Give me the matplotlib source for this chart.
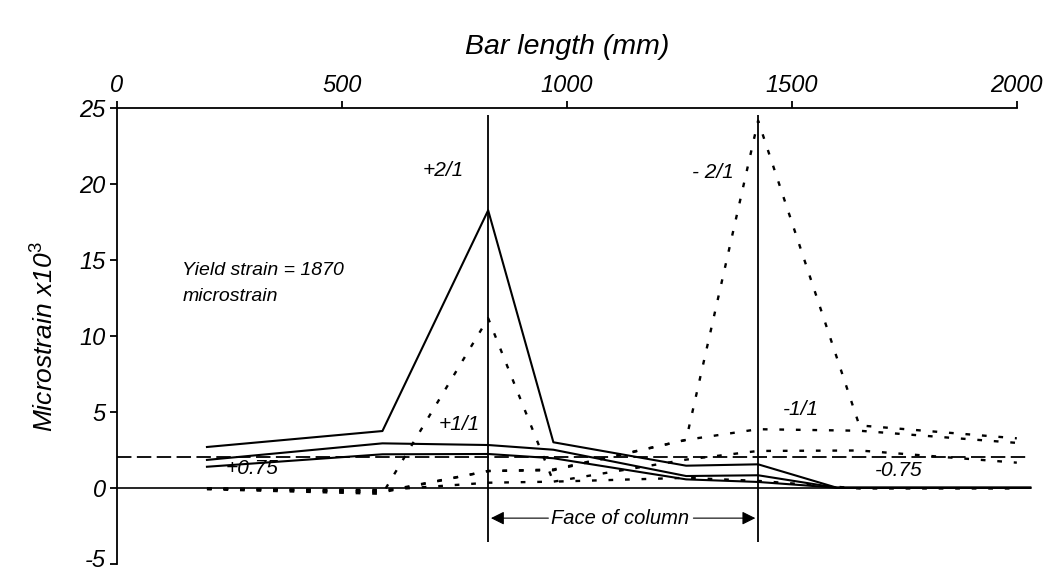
import matplotlib.pyplot as plt
from matplotlib.transforms import ScaledTranslation

plt.rcParams['font.family'] = ['Liberation Sans', 'DejaVu Sans']
plt.rcParams['mathtext.fontset'] = 'custom'
plt.rcParams['mathtext.it'] = 'Liberation Sans:italic'
plt.rcParams['mathtext.rm'] = 'Liberation Sans'
plt.rcParams['mathtext.default'] = 'it'

# gauge positions along the bar (mm)
x_solid = [200, 590, 825, 970, 1265, 1425, 1600, 2030]
x_dotted = [200, 590, 825, 970, 1265, 1425, 1650, 2000]

# solid traces (microstrain x10^3)
pos_2_1 = [2.73, 3.78, 18.3, 3.04, 1.50, 1.59, 0.05, 0.05]
pos_1_1 = [1.88, 2.97, 2.86, 2.55, 0.82, 0.87, 0.05, 0.05]
pos_075 = [1.43, 2.25, 2.27, 1.99, 0.60, 0.43, 0.05, 0.05]

# dotted traces
pos_1_1_dot = [-0.05, -0.35, 11.2, 0.45, 0.70, 0.50, 0.0, 0.0]
neg_2_1 = [0.0, -0.25, 1.15, 1.20, 3.20, 24.2, 4.15, 3.30]
neg_1_1 = [0.0, -0.20, 1.15, 1.25, 3.20, 3.90, 3.80, 3.00]
neg_075 = [0.0, -0.10, 0.38, 0.45, 1.90, 2.47, 2.50, 1.70]

yield_strain = 2.08
column_faces = [825, 1425]

x_ticks = [0, 500, 1000, 1500, 2000]
y_ticks = [-5, 0, 5, 10, 15, 20, 25]

fig = plt.figure(figsize=(10.5, 5.71), dpi=100)
ax = fig.add_axes([0.1114, 0.0114, 0.857, 0.7986])

dot = (0, (2, 5))
for ys in [pos_2_1, pos_1_1, pos_075]:
    ax.plot(x_solid, ys, color='black', lw=1.5, clip_on=False)
for ys in [pos_1_1_dot, neg_2_1, neg_1_1, neg_075]:
    ax.plot(x_dotted, ys, color='black', lw=1.7, linestyle=dot, clip_on=False)

# yield strain and zero reference
ax.plot([0, 2030], [yield_strain, yield_strain], color='black', lw=1.3,
        linestyle=(0, (8, 3)), clip_on=False)
ax.plot([0, 2030], [0, 0], color='black', lw=1.2, clip_on=False)

# faces of the column
ax.vlines(column_faces, -3.5, 24.6, color='black', lw=1.3)
ax.annotate('', xy=(column_faces[0], -1.95), xytext=(965, -1.95),
            arrowprops=dict(arrowstyle='-|>', color='black', lw=0.8, mutation_scale=20))
ax.annotate('', xy=(column_faces[1], -1.95), xytext=(1275, -1.95),
            arrowprops=dict(arrowstyle='-|>', color='black', lw=0.8, mutation_scale=20))
ax.text(1118, -1.95, 'Face of column', ha='center', va='center', fontsize=14.5, style='italic')

# series labels
lab = dict(fontsize=15, style='italic', ha='center', va='center')
ax.text(725, 20.9, '+2/1', **lab)
ax.text(1325, 20.8, '- 2/1', **lab)
ax.text(760, 4.2, '+1/1', **lab)
ax.text(300, 1.3, '+0.75', **lab)
ax.text(1520, 5.2, '-1/1', **lab)
ax.text(1737, 1.2, '-0.75', **lab)
ax.text(145, 13.5, 'Yield strain = 1870\nmicrostrain', fontsize=14, style='italic',
        ha='left', va='center', linespacing=1.65)

ax.set_xlim(0, 2000)
ax.set_ylim(-5, 25)
ax.xaxis.tick_top()
ax.xaxis.set_label_position('top')
ax.set_xticks(x_ticks)
ax.set_yticks(y_ticks)
ax.set_xticklabels([str(t) for t in x_ticks], fontsize=17, style='italic')
ax.set_yticklabels([str(t) for t in y_ticks], fontsize=17, style='italic')
ax.tick_params(axis='both', direction='out', length=5, width=1.3)
ax.tick_params(axis='x', pad=3)
ax.tick_params(axis='y', pad=3)
ax.set_xlabel('Bar length (mm)', fontsize=20.5, style='italic', labelpad=15)
ax.set_ylabel('Microstrain x10$^3$', fontsize=19, style='italic', labelpad=15)

# keep the bottom tick label inside the canvas
bottom_label = ax.get_yticklabels()[0]
bottom_label.set_transform(bottom_label.get_transform() +
                           ScaledTranslation(0, 5 / 72, fig.dpi_scale_trans))

for side in ['right', 'bottom']:
    ax.spines[side].set_visible(False)
for side in ['left', 'top']:
    ax.spines[side].set_linewidth(1.3)

fig.savefig('out.png', dpi=100)
